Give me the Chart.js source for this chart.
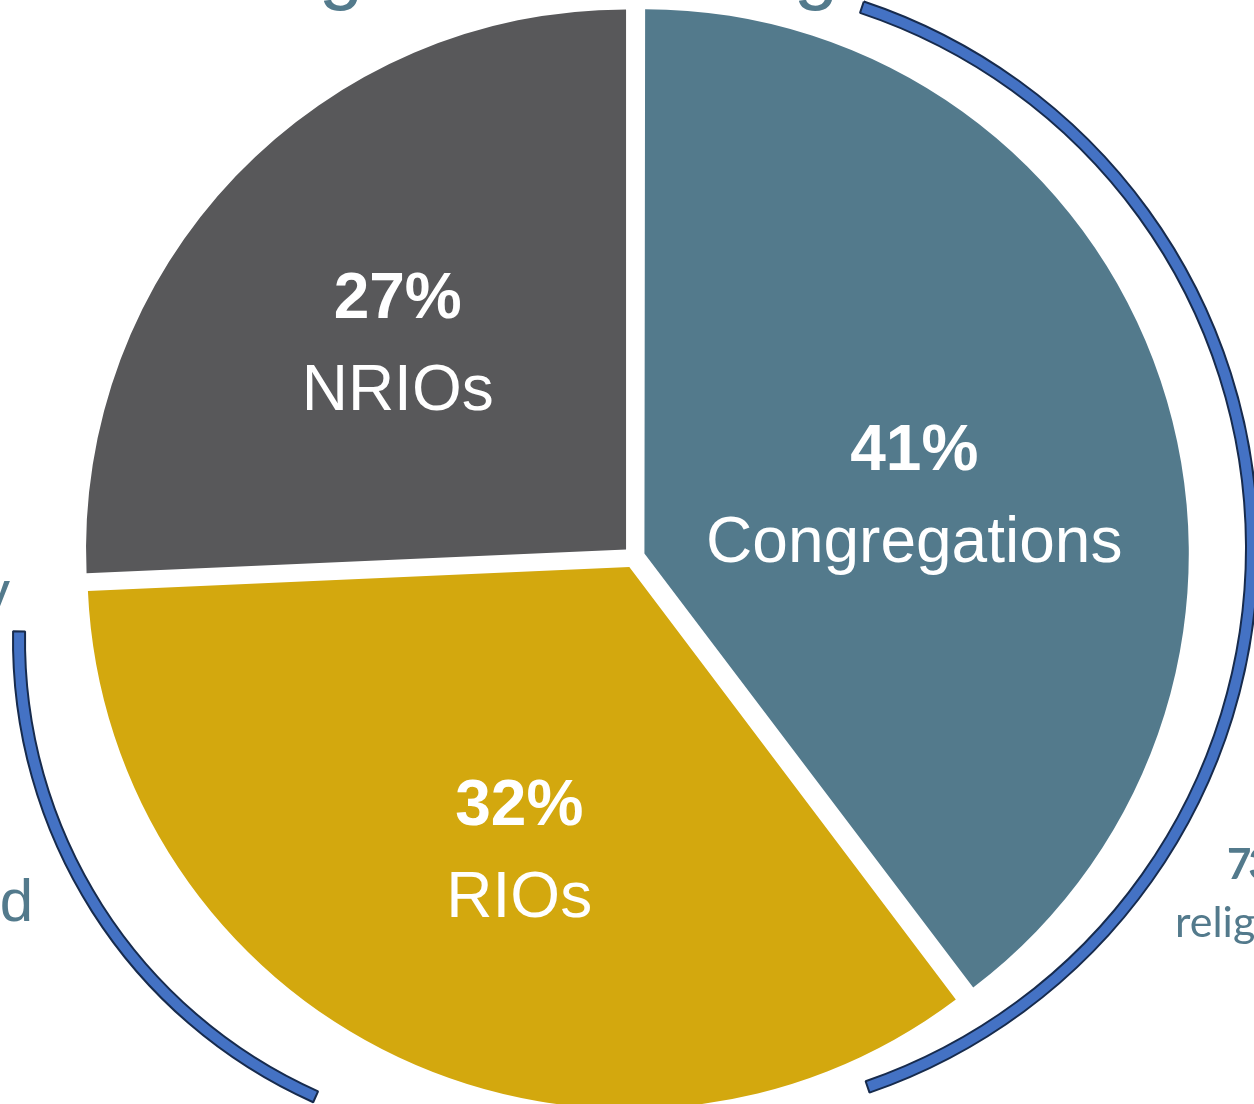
<!DOCTYPE html>
<html>
<head>
<meta charset="utf-8">
<script src="https://cdn.jsdelivr.net/npm/chart.js@4.4.1/dist/chart.umd.min.js"></script>
<style>
  body { margin: 0; background: #fff; }
  #wrap { position: relative; width: 1254px; height: 1104px; overflow: hidden; background: #fff; }
  #wrap canvas { position: absolute; left: 0; top: 0; }
</style>
</head>
<body>
<div id="wrap">
  <canvas id="arcLeft" width="1254" height="1104"></canvas>
  <canvas id="arcRight" width="1254" height="1104"></canvas>
  <canvas id="pieChart" width="1254" height="1104"></canvas>
</div>
<script>
// slices, clockwise from 12 o'clock
var categories = ['Congregations', 'RIOs', 'NRIOs'];
var shareLabels = ['41%', '32%', '27%'];
var sliceSizes = [39.7, 34.6, 25.7];   // share of the circle each wedge takes in the picture
var sliceColors = ['#537A8C', '#D3A80E', '#58585A'];

// bracket arcs, degrees clockwise from 12 o'clock: [gap before, arc, rest]
var rightBracket = [18.4, 142.6, 199];
var leftBracket = [204, 67, 89];

var teal = '#537A8C';

// white labels inside the wedges
var sliceLabels = {
  id: 'sliceLabels',
  afterDatasetsDraw: function (chart, args, opts) {
    var ctx = chart.ctx;
    var arcs = chart.getDatasetMeta(0).data;
    ctx.save();
    ctx.fillStyle = '#fff';
    ctx.textAlign = 'center';
    ctx.textBaseline = 'alphabetic';
    arcs.forEach(function (arc, i) {
      var mid = (arc.startAngle + arc.endAngle) / 2;
      var d = (arc.options.offset || 0) / 4 + arc.outerRadius * opts.dist;
      var x = arc.x + Math.cos(mid) * d + opts.nudge[i][0];
      var y = arc.y + Math.sin(mid) * d + opts.nudge[i][1];
      ctx.font = 'bold 64px "Liberation Sans", Arial, sans-serif';
      ctx.fillText(shareLabels[i], x, y - 46);
      ctx.font = '64px "Liberation Sans", Arial, sans-serif';
      ctx.fillText(categories[i], x, y + 46);
    });
    ctx.restore();
  }
};

// bits of the slide text that poke into the frame
var slideText = {
  id: 'slideText',
  afterDraw: function (chart, args, opts) {
    var ctx = chart.ctx;
    ctx.save();
    ctx.fillStyle = teal;
    opts.items.forEach(function (t) {
      ctx.font = t.font;
      ctx.textAlign = t.align;
      ctx.letterSpacing = t.spacing || '0px';
      ctx.fillText(t.text, t.x, t.y);
    });
    ctx.restore();
  }
};

new Chart(document.getElementById('pieChart'), {
  type: 'pie',
  data: {
    labels: categories,
    datasets: [{
      data: sliceSizes,
      backgroundColor: sliceColors,
      borderWidth: 0,
      offset: 44
    }]
  },
  options: {
    responsive: false,
    devicePixelRatio: 1,
    animation: false,
    radius: 540,
    layout: { padding: { left: 14, top: 10 } },
    plugins: {
      legend: { display: false },
      tooltip: { enabled: false },
      sliceLabels: { dist: 0.57, nudge: [[-22, 60], [21, 26], [-6, 27]] },
      slideText: {
        items: [
          { text: 'g', x: 341, y: -6, align: 'center', font: '80px "Liberation Sans", Arial, sans-serif' },
          { text: 'g', x: 816, y: -6, align: 'center', font: '80px "Liberation Sans", Arial, sans-serif' },
          { text: 'y', x: 10, y: 612, align: 'right', font: '60px "Liberation Sans", Arial, sans-serif' },
          { text: 'd', x: 33, y: 921, align: 'right', font: '60px "Liberation Sans", Arial, sans-serif' },
          { text: '73%', x: 1227, y: 879, align: 'left', font: 'bold 42px Lato, sans-serif', spacing: '-3px' },
          { text: 'religious', x: 1175, y: 937, align: 'left', font: '43px Lato, sans-serif' }
        ]
      }
    }
  },
  plugins: [sliceLabels, slideText]
});

function bracket(id, values, radius, centerPad) {
  return new Chart(document.getElementById(id), {
    type: 'doughnut',
    data: {
      labels: ['before', 'bracket', 'after'],
      datasets: [{
        data: values,
        backgroundColor: ['rgba(0,0,0,0)', '#4472C4', 'rgba(0,0,0,0)'],
        borderColor: ['rgba(0,0,0,0)', '#172B4D', 'rgba(0,0,0,0)'],
        borderWidth: [0, 2, 0]
      }]
    },
    options: {
      responsive: false,
      devicePixelRatio: 1,
      animation: false,
      radius: radius + 6,
      cutout: ((radius - 6) / (radius + 6) * 100) + '%',
      layout: { padding: centerPad },
      plugins: { legend: { display: false }, tooltip: { enabled: false } }
    }
  });
}

// right bracket centred near (682, 548), left one near (519, 640)
bracket('arcRight', rightBracket, 570, { left: 110, bottom: 8 });
bracket('arcLeft', leftBracket, 500, { right: 216, top: 176 });
</script>
</body>
</html>
